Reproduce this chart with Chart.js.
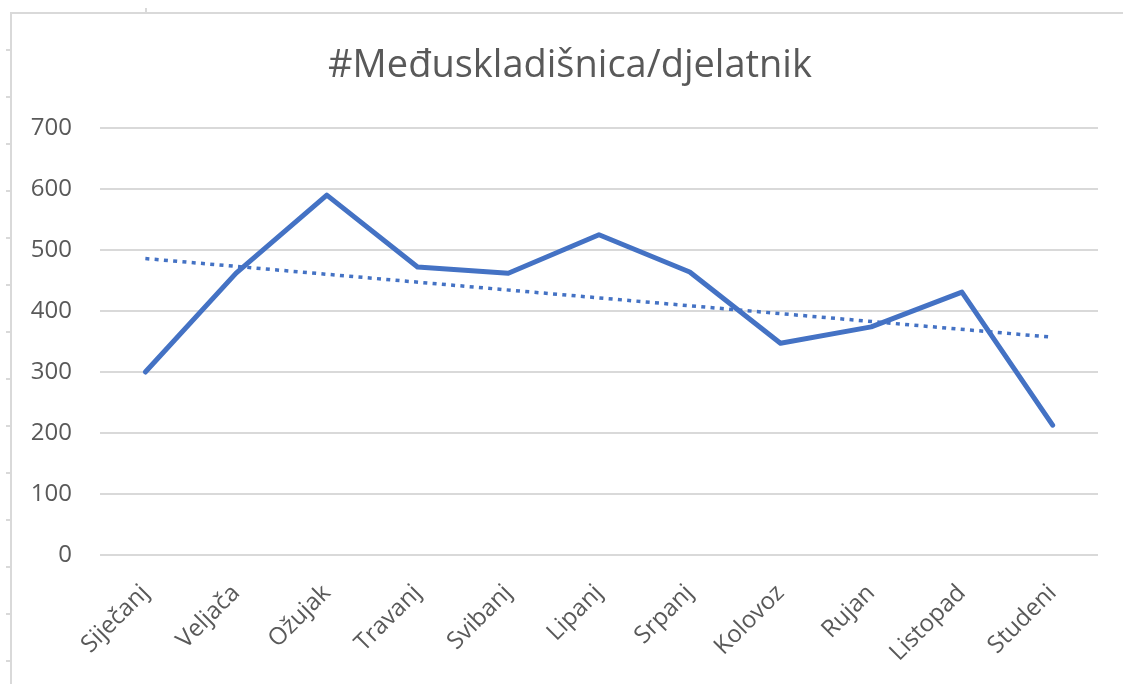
<!DOCTYPE html>
<html>
<head>
<meta charset="utf-8">
<script src="https://cdn.jsdelivr.net/npm/chart.js@4"></script>
<style>
  html, body { margin: 0; padding: 0; background: #fff; }
  body { width: 1123px; height: 684px; position: relative; overflow: hidden; }
  #rows {
    position: absolute; left: 6px; top: 49px; width: 4px; height: 635px;
    background: repeating-linear-gradient(to bottom, #d9d9d9 0 2px, transparent 2px 47px);
  }
  #colmark { position: absolute; left: 145px; top: 8px; width: 2px; height: 4px; background: #d9d9d9; }
  #frame {
    position: absolute; left: 10px; top: 12px; width: 1113px; height: 672px;
    border-left: 2px solid #d9d9d9; border-top: 2px solid #d9d9d9;
  }
</style>
</head>
<body>
<div id="rows"></div>
<div id="colmark"></div>
<div id="frame"><canvas id="myChart" width="1111" height="670"></canvas></div>
<script>
const title = "#Međuskladišnica/djelatnik";
const months = ["Siječanj", "Veljača", "Ožujak", "Travanj", "Svibanj", "Lipanj", "Srpanj", "Kolovoz", "Rujan", "Listopad", "Studeni"];
const values = [300, 462, 590, 472, 462, 525, 464, 347, 374, 431, 213];
// linear trendline, read at its two ends
const trend = [486, null, null, null, null, null, null, null, null, null, 357];

const textColor = "#595959";
const gridColor = "#d9d9d9";
const blue = "#4472C4";

const chartData = {
  labels: months,
  datasets: [
    {
      label: "djelatnik",
      data: values,
      borderColor: blue,
      borderWidth: 5,
      borderJoinStyle: "round",
      borderCapStyle: "round",
      pointRadius: 0,
      tension: 0,
    },
    {
      label: "trend",
      data: trend,
      borderColor: blue,
      borderWidth: 3.5,
      borderDash: [4, 5.3],
      pointRadius: 0,
      spanGaps: true,
    },
  ],
};

// nudge the title a bit to the right, like in the Excel chart
const shiftTitle = {
  id: "shiftTitle",
  afterLayout(chart) {
    if (chart.titleBlock) chart.titleBlock.left += 30;
  },
};

function createChartConfig(data) {
  return {
    type: "line",
    data,
    plugins: [shiftTitle],
    options: {
      responsive: false,
      animation: false,
      events: [],
      layout: { padding: { left: 0, right: 25, top: 0, bottom: 0 } },
      scales: {
        x: {
          offset: true,
          grid: { display: false },
          border: { display: false },
          ticks: {
            color: textColor,
            font: { family: "Open Sans", size: 24 },
            minRotation: 45,
            maxRotation: 45,
            padding: 16,
          },
          afterFit: (s) => { s.height = 129; },
        },
        y: {
          min: 0,
          max: 700,
          grid: { color: gridColor, lineWidth: 2, drawTicks: false },
          border: { display: false },
          ticks: {
            stepSize: 100,
            color: textColor,
            font: { family: "Open Sans", size: 24 },
            padding: 28,
          },
          afterFit: (s) => { s.width = 88; },
        },
      },
      plugins: {
        legend: { display: false },
        tooltip: { enabled: false },
        title: {
          display: true,
          text: title,
          color: textColor,
          font: { family: "Open Sans", size: 38, weight: "normal" },
          padding: { top: 29, bottom: 39.4 },
        },
      },
    },
  };
}

new Chart(document.getElementById("myChart"), createChartConfig(chartData));
</script>
</body>
</html>
